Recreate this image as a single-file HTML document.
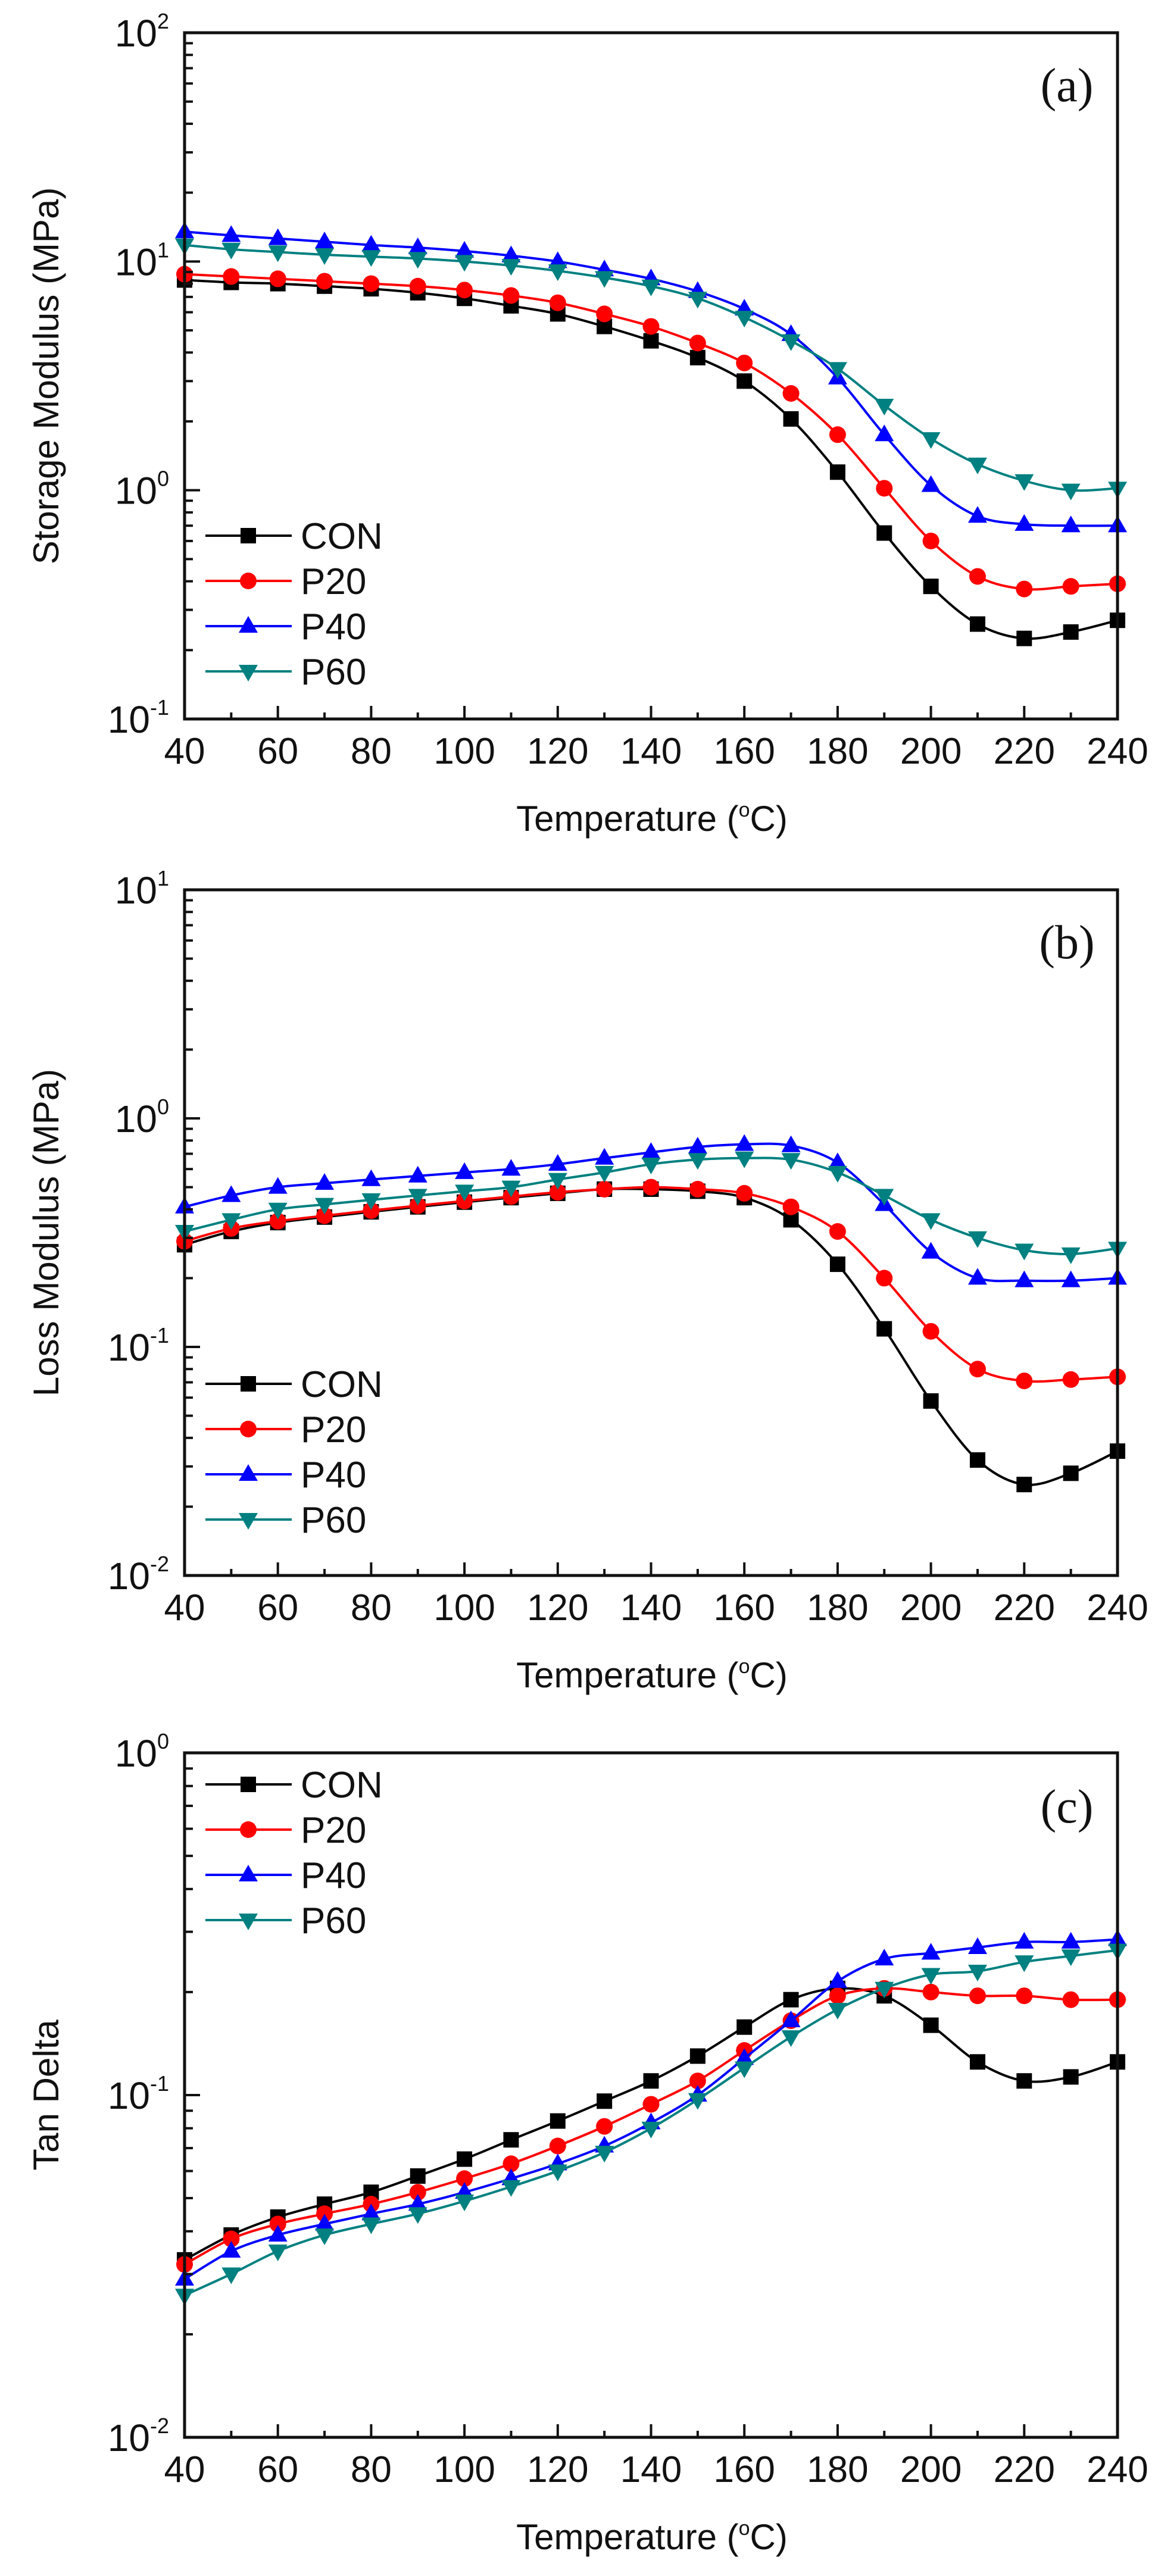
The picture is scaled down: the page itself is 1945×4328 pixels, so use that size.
<!DOCTYPE html>
<html><head><meta charset="utf-8"><style>
html,body{margin:0;padding:0;background:#fff;}
svg{display:block;}
text{font-family:"Liberation Sans",Arial,sans-serif;fill:#111;}
</style></head><body>
<svg id="s" xmlns="http://www.w3.org/2000/svg" width="1945" height="4328" viewBox="0 0 1945 4328"></svg>
<script>
const S=document.getElementById('s');let h='';
const L=310,R=1877;
const X=t=>L+(t-40)*(R-L)/200;
const T=[];for(let t=40;t<=240;t+=10)T.push(t);
const panels=[
 {top:55,bot:1208,dmax:2,dmin:-1,title:'Storage Modulus (MPa)',lab:'(a)',labY:170,legY:[900,976,1052,1128],
  d:{
  CON:[8.3,8.1,8.0,7.8,7.6,7.3,6.9,6.4,5.9,5.2,4.5,3.8,3.0,2.05,1.2,0.65,0.38,0.26,0.225,0.24,0.27],
  P20:[8.8,8.6,8.4,8.2,8.0,7.8,7.5,7.1,6.6,5.9,5.2,4.4,3.6,2.65,1.75,1.02,0.6,0.42,0.37,0.38,0.39],
  P40:[13.5,13,12.6,12.2,11.8,11.5,11.1,10.6,10.0,9.2,8.4,7.4,6.2,4.8,3.1,1.75,1.05,0.77,0.71,0.70,0.70],
  P60:[11.8,11.3,11,10.7,10.5,10.3,10.0,9.6,9.1,8.5,7.8,6.9,5.7,4.5,3.4,2.35,1.68,1.3,1.1,1.0,1.02]}},
 {top:1495,bot:2647,dmax:1,dmin:-2,title:'Loss Modulus (MPa)',lab:'(b)',labY:1610,legY:[2325,2401,2477,2553],
  d:{
  CON:[0.28,0.32,0.35,0.37,0.39,0.41,0.43,0.45,0.47,0.49,0.49,0.48,0.45,0.36,0.23,0.12,0.058,0.032,0.025,0.028,0.035],
  P20:[0.29,0.33,0.355,0.375,0.395,0.415,0.435,0.455,0.475,0.49,0.50,0.49,0.47,0.41,0.32,0.2,0.117,0.08,0.071,0.072,0.074],
  P40:[0.41,0.46,0.5,0.52,0.54,0.56,0.58,0.6,0.63,0.67,0.71,0.75,0.77,0.76,0.64,0.42,0.26,0.2,0.195,0.195,0.2],
  P60:[0.32,0.36,0.4,0.42,0.44,0.46,0.48,0.5,0.54,0.58,0.63,0.66,0.67,0.66,0.58,0.46,0.36,0.3,0.265,0.255,0.27]}},
 {top:2945,bot:4095,dmax:0,dmin:-2,title:'Tan Delta',lab:'(c)',labY:3062,legY:[2998,3074,3150,3226],
  d:{
  CON:[0.033,0.039,0.044,0.048,0.052,0.058,0.065,0.074,0.084,0.096,0.11,0.13,0.158,0.19,0.205,0.195,0.16,0.125,0.11,0.113,0.125],
  P20:[0.032,0.038,0.042,0.045,0.048,0.052,0.057,0.063,0.071,0.081,0.094,0.11,0.135,0.165,0.195,0.205,0.2,0.195,0.195,0.19,0.19],
  P40:[0.029,0.035,0.039,0.042,0.045,0.048,0.052,0.057,0.063,0.071,0.083,0.1,0.128,0.165,0.215,0.25,0.26,0.27,0.28,0.28,0.285],
  P60:[0.026,0.03,0.035,0.039,0.042,0.045,0.049,0.054,0.06,0.068,0.08,0.097,0.12,0.148,0.178,0.205,0.225,0.23,0.245,0.255,0.265]}}
];
const col={CON:'#000',P20:'#ff0000',P40:'#0000ff',P60:'#008080'};
function mk(n,x,y){const c=col[n];
 if(n=='CON')return `<rect x="${x-13}" y="${y-13}" width="26" height="26" fill="${c}"/>`;
 if(n=='P20')return `<circle cx="${x}" cy="${y}" r="14" fill="${c}"/>`;
 if(n=='P40')return `<polygon points="${x},${y-17} ${x-16},${y+11} ${x+16},${y+11}" fill="${c}"/>`;
 return `<polygon points="${x},${y+17} ${x-16},${y-11} ${x+16},${y-11}" fill="${c}"/>`;}
panels.forEach(p=>{
 const dec=(p.bot-p.top)/(p.dmax-p.dmin);
 const Y=v=>p.top+(p.dmax-Math.log10(v))*dec;
 // series
 ['CON','P20','P40','P60'].forEach(n=>{
  const pts=p.d[n].map((v,i)=>[X(T[i]),Y(v)]);
  // smooth path
  let d=`M${pts[0][0]},${pts[0][1]}`;
  for(let i=0;i<pts.length-1;i++){
   const p0=pts[i-1]||pts[i],p1=pts[i],p2=pts[i+1],p3=pts[i+2]||p2;
   const c1=[p1[0]+(p2[0]-p0[0])/6,p1[1]+(p2[1]-p0[1])/6],c2=[p2[0]-(p3[0]-p1[0])/6,p2[1]-(p3[1]-p1[1])/6];
   d+=` C${c1[0]},${c1[1]} ${c2[0]},${c2[1]} ${p2[0]},${p2[1]}`;}
  h+=`<path d="${d}" fill="none" stroke="${col[n]}" stroke-width="4"/>`;
  pts.forEach(q=>h+=mk(n,q[0],q[1]));
 });
 // legend
 ['CON','P20','P40','P60'].forEach((n,i)=>{const y=p.legY[i];
  h+=`<line x1="345" y1="${y}" x2="490" y2="${y}" stroke="${col[n]}" stroke-width="4"/>`+mk(n,417,y)+
  `<text x="505" y="${y+22}" font-size="62">${n}</text>`;});
 // frame
 h+=`<rect x="${L}" y="${p.top}" width="${R-L}" height="${p.bot-p.top}" fill="none" stroke="#111" stroke-width="5"/>`;
 // y ticks
 for(let e=p.dmin;e<=p.dmax;e++){
  const y=p.top+(p.dmax-e)*dec;
  if(e<p.dmax||true){ if(e>p.dmin&&e<p.dmax) h+=`<line x1="${L}" y1="${y}" x2="${L+26}" y2="${y}" stroke="#111" stroke-width="4"/>`;}
  h+=`<text x="284" y="${y+23}" font-size="64" text-anchor="end">10<tspan dy="-30" font-size="36">${e<0?'-'+(-e):e}</tspan></text>`;
  if(e<p.dmax)for(let k=2;k<=9;k++){const yy=Y(k*Math.pow(10,e));
   h+=`<line x1="${L}" y1="${yy}" x2="${L+14}" y2="${yy}" stroke="#111" stroke-width="4"/>`;}
 }
 // x ticks
 for(let t=50;t<240;t+=10){const x=X(t);const len=(t%20==0)?22:11;
  h+=`<line x1="${x}" y1="${p.bot}" x2="${x}" y2="${p.bot-len}" stroke="#111" stroke-width="4"/>`;}
 for(let t=40;t<=240;t+=20)h+=`<text x="${X(t)}" y="${p.bot+75}" font-size="62" text-anchor="middle">${t}</text>`;
 h+=`<text x="1095" y="${p.bot+188}" font-size="60" text-anchor="middle">Temperature (<tspan dy="-24" font-size="34">o</tspan><tspan dy="24">C)</tspan></text>`;
 const cy=(p.top+p.bot)/2;
 h+=`<text x="0" y="0" font-size="60" text-anchor="middle" transform="translate(98,${cy}) rotate(-90)">${p.title}</text>`;
 h+=`<text x="1792" y="${p.labY}" font-size="80" text-anchor="middle" style="font-family:'Liberation Serif',serif">${p.lab}</text>`;
});
S.innerHTML=h;
</script>
</body></html>
